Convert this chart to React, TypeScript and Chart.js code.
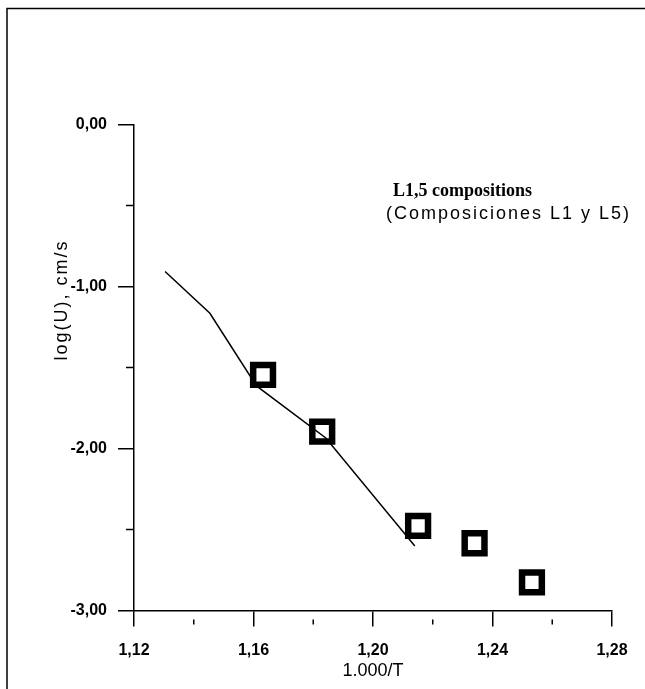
import React, { useEffect, useRef } from 'react';
import { Chart, registerables } from 'chart.js';

Chart.register(...registerables);

// Measured squares (1000/T, log U)
const xPoints = [1.1632, 1.183, 1.2151, 1.234, 1.2532];
const yPoints = [-1.546, -1.896, -2.478, -2.585, -2.826];
// Fitted curve vertices
const xLine = [1.1304, 1.1454, 1.161, 1.1842, 1.214];
const yLine = [-0.907, -1.165, -1.614, -1.935, -2.602];
// Minor tick positions
const xMinorTicks = [1.14, 1.18, 1.22, 1.26];
const yMinorTicks = [-0.5, -1.5, -2.5];
// Texts
const xTitle = '1.000/T';
const yTitle = 'log(U), cm/s';
const noteTitle = 'L1,5 compositions';
const noteSubtitle = '(Composiciones L1 y L5)';

const fmt = (v: number) => Number(v).toFixed(2).replace('.', ',');

const decorPlugin = {
  id: 'decor',
  afterDraw(chart: any) {
    const ctx = chart.ctx as CanvasRenderingContext2D;
    const area = chart.chartArea;
    const xs = chart.scales.x;
    const ys = chart.scales.y;
    ctx.save();
    ctx.strokeStyle = '#000';
    ctx.lineWidth = 1.5;
    // frame (top and left edges)
    ctx.beginPath();
    ctx.moveTo(7, chart.height);
    ctx.lineTo(7, 8.5);
    ctx.lineTo(chart.width, 8.5);
    ctx.stroke();
    // minor ticks
    ctx.beginPath();
    xMinorTicks.forEach((v) => {
      const px = xs.getPixelForValue(v);
      ctx.moveTo(px, area.bottom + 9);
      ctx.lineTo(px, area.bottom + 14);
    });
    yMinorTicks.forEach((v) => {
      const py = ys.getPixelForValue(v);
      ctx.moveTo(area.left - 8, py);
      ctx.lineTo(area.left, py);
    });
    ctx.stroke();
    // annotation
    ctx.fillStyle = '#000';
    ctx.textAlign = 'left';
    ctx.textBaseline = 'alphabetic';
    ctx.font = 'bold 18px "Liberation Serif"';
    ctx.fillText(noteTitle, 393, 196);
    ctx.font = '18px "Liberation Sans"';
    (ctx as any).letterSpacing = '2px';
    ctx.fillText(noteSubtitle, 386, 219);
    // y axis title
    (ctx as any).letterSpacing = '2px';
    ctx.translate(62, 300);
    ctx.rotate(-Math.PI / 2);
    ctx.textAlign = 'center';
    ctx.textBaseline = 'middle';
    ctx.font = '18px "Liberation Sans"';
    ctx.fillText(yTitle, 0, 0);
    (ctx as any).letterSpacing = '0px';
    ctx.restore();
  },
};

export default function App() {
  const ref = useRef<HTMLCanvasElement | null>(null);
  useEffect(() => {
    if (!ref.current) return;
    const chart = new Chart(ref.current, {
      type: 'scatter',
      data: {
        datasets: [
          {
            label: 'Composiciones L1 y L5',
            data: xPoints.map((x, i) => ({ x, y: yPoints[i] })),
            pointStyle: 'rect',
            pointRadius: 14,
            pointBorderWidth: 6.5,
            pointBorderColor: '#000',
            pointBackgroundColor: 'rgba(0,0,0,0)',
            showLine: false,
            order: 1,
          },
          {
            label: 'fit',
            data: xLine.map((x, i) => ({ x, y: yLine[i] })),
            showLine: true,
            borderColor: '#000',
            borderWidth: 1.5,
            pointRadius: 0,
            fill: false,
            tension: 0,
            order: 2,
          },
        ],
      },
      plugins: [decorPlugin],
      options: {
        responsive: false,
        animation: false,
        devicePixelRatio: 1,
        layout: { padding: { top: 124.5, right: 33, bottom: 0, left: 0 } },
        plugins: {
          legend: { display: false },
          tooltip: { enabled: false },
          title: { display: false },
        },
        scales: {
          x: {
            type: 'linear',
            min: 1.12,
            max: 1.28,
            afterFit: (s: any) => {
              s.height = 78.5;
              s.paddingLeft = 0;
              s.paddingRight = 0;
            },
            ticks: {
              stepSize: 0.04,
              callback: (v: any) => fmt(v),
              color: '#000',
              font: { family: '"Liberation Sans"', size: 16, weight: 'bold' },
              padding: 14,
              maxRotation: 0,
              autoSkip: false,
            },
            grid: {
              drawOnChartArea: false,
              drawTicks: true,
              tickLength: 16,
              color: '#000',
              lineWidth: 1.5,
            },
            border: { display: true, color: '#000', width: 1.5 },
            title: {
              display: true,
              text: xTitle,
              color: '#000',
              font: { family: '"Liberation Sans"', size: 18, lineHeight: 1 },
              padding: { top: 0, bottom: 9 },
            },
          },
          y: {
            type: 'linear',
            min: -3,
            max: 0,
            afterFit: (s: any) => {
              s.width = 134;
              s.paddingTop = 0;
              s.paddingBottom = 0;
            },
            ticks: {
              stepSize: 1,
              callback: (v: any) => fmt(v),
              color: '#000',
              font: { family: '"Liberation Sans"', size: 16, weight: 'bold' },
              padding: 11,
            },
            grid: {
              drawOnChartArea: false,
              drawTicks: true,
              tickLength: 16,
              color: '#000',
              lineWidth: 1.5,
            },
            border: { display: true, color: '#000', width: 1.5 },
            title: { display: false },
          },
        },
      },
    });
    return () => chart.destroy();
  }, []);
  return (
    <div style={{ position: 'fixed', left: 0, top: 0, width: 645, height: 689, background: '#fff' }}>
      <canvas ref={ref} width={645} height={689} style={{ display: 'block' }} />
    </div>
  );
}
